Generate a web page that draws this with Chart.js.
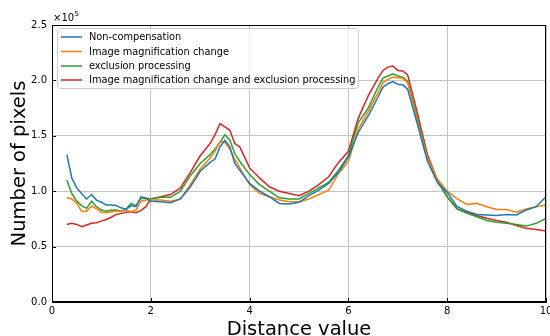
<!DOCTYPE html>
<html><head><meta charset="utf-8">
<script src="https://cdn.jsdelivr.net/npm/chart.js@4.4.1/dist/chart.umd.min.js"></script>
<style>html,body{margin:0;padding:0;background:#fff}canvas{display:block}</style>
</head><body>
<canvas id="c" width="550" height="336"></canvas>
<script>
// Distance values (x) and pixel counts in units of 1e5
const distance = [0.3,0.4,0.5,0.6,0.7,0.8,0.9,1.0,1.1,1.2,1.3,1.4,1.5,1.6,1.7,1.8,1.9,2.0,
  2.2,2.4,2.6,2.8,3.0,3.2,3.3,3.4,3.5,3.6,3.7,3.8,
  4.0,4.2,4.4,4.6,4.8,5.0,5.2,5.4,5.6,5.8,6.0,6.2,6.4,6.6,
  6.7,6.8,6.9,7.0,7.1,7.2,
  7.4,7.6,7.8,8.0,8.2,8.4,8.6,8.8,9.0,9.2,9.4,9.6,9.8,10.0];

const nonCompensation = [1.33,1.12,1.03,0.98,0.93,0.97,0.92,0.90,0.875,0.875,0.87,0.85,0.835,0.87,0.86,0.95,0.94,0.91,
  0.905,0.895,0.93,1.04,1.18,1.26,1.29,1.40,1.46,1.40,1.25,1.19,
  1.07,1.00,0.95,0.89,0.885,0.90,0.96,1.01,1.07,1.17,1.31,1.53,1.68,1.85,
  1.94,1.97,1.99,1.965,1.96,1.92,
  1.60,1.27,1.08,0.99,0.86,0.82,0.79,0.785,0.78,0.79,0.785,0.83,0.86,0.95];

const magnificationChange = [0.94,0.93,0.89,0.82,0.82,0.866,0.84,0.81,0.805,0.815,0.82,0.82,0.83,0.815,0.83,0.91,0.92,0.92,
  0.92,0.91,0.93,1.06,1.20,1.30,1.36,1.45,1.44,1.38,1.29,1.21,
  1.06,0.98,0.95,0.92,0.905,0.905,0.93,0.97,1.01,1.16,1.27,1.56,1.72,1.89,
  1.98,2.01,2.03,2.025,2.02,1.98,
  1.63,1.30,1.11,1.00,0.93,0.88,0.89,0.86,0.835,0.835,0.81,0.84,0.86,0.875];

const exclusionProcessing = [1.10,0.98,0.91,0.87,0.845,0.91,0.86,0.83,0.82,0.83,0.83,0.82,0.84,0.89,0.87,0.935,0.935,0.93,
  0.945,0.945,1.00,1.14,1.25,1.33,1.38,1.44,1.51,1.46,1.34,1.27,
  1.15,1.06,1.00,0.94,0.93,0.93,0.98,1.03,1.08,1.19,1.32,1.62,1.75,1.94,
  2.02,2.04,2.06,2.04,2.03,1.99,
  1.66,1.31,1.09,0.95,0.84,0.80,0.77,0.735,0.72,0.71,0.70,0.685,0.71,0.755];

const magnificationAndExclusion = [0.70,0.71,0.70,0.68,0.695,0.71,0.715,0.73,0.745,0.765,0.79,0.80,0.81,0.815,0.805,0.825,0.86,0.93,
  0.95,0.97,1.03,1.17,1.32,1.43,1.51,1.61,1.58,1.55,1.43,1.40,
  1.21,1.12,1.04,1.00,0.98,0.96,1.00,1.06,1.13,1.26,1.36,1.66,1.86,2.02,
  2.09,2.12,2.13,2.09,2.085,2.05,
  1.70,1.33,1.10,0.95,0.84,0.81,0.78,0.755,0.735,0.72,0.69,0.665,0.655,0.64];

const seriesLabels = ['Non-compensation','Image magnification change','exclusion processing','Image magnification change and exclusion processing'];
const seriesColors = ['#1f77b4','#ff7f0e','#2ca02c','#d62728'];
const seriesValues = [nonCompensation, magnificationChange, exclusionProcessing, magnificationAndExclusion];

const FONT = "'DejaVu Sans', sans-serif";

const decor = {
  id: 'decor',
  afterDatasetsDraw(chart) {
    const ctx = chart.ctx, a = chart.chartArea;
    const xs = chart.scales.x, ys = chart.scales.y;
    ctx.save();
    ctx.strokeStyle = '#000'; ctx.lineWidth = 1;
    ctx.strokeRect(Math.round(a.left)+0.5, Math.round(a.top)+0.5, Math.round(a.right-a.left)-1, Math.round(a.bottom-a.top)-1);
    ctx.beginPath();
    ys.ticks.forEach(t => { const y = Math.round(ys.getPixelForValue(t.value))+0.5; ctx.moveTo(a.left, y); ctx.lineTo(a.left+4, y); });
    xs.ticks.forEach(t => { const x = Math.round(xs.getPixelForValue(t.value))+0.5; ctx.moveTo(x, a.bottom); ctx.lineTo(x, a.bottom-4); });
    ctx.stroke();
    ctx.restore();
  },
  afterDraw(chart) {
    const ctx = chart.ctx, a = chart.chartArea;
    ctx.save();
    ctx.fillStyle = '#000';
    ctx.font = '19.5px ' + FONT;
    ctx.textAlign = 'center'; ctx.textBaseline = 'alphabetic';
    ctx.fillText('Distance value', (a.left + a.right) / 2, 335);
    ctx.save();
    ctx.translate(25, (a.top + a.bottom) / 2);
    ctx.rotate(-Math.PI / 2);
    ctx.fillText('Number of pixels', 0, 0);
    ctx.restore();
    ctx.textAlign = 'left';
    ctx.font = '10px ' + FONT;
    ctx.fillText('\u00d710', 53, 21);
    const w = ctx.measureText('\u00d710').width;
    ctx.font = '7px ' + FONT;
    ctx.fillText('5', 53 + w + 0.5, 16);
    const lx = 57, ly = 28, lw = 301, lh = 60;
    ctx.fillStyle = 'rgba(255,255,255,0.8)';
    ctx.strokeStyle = '#cccccc'; ctx.lineWidth = 1;
    ctx.beginPath();
    ctx.roundRect(lx + 0.5, ly + 0.5, lw, lh, 3);
    ctx.fill(); ctx.stroke();
    ctx.font = '9.8px ' + FONT;
    ctx.textBaseline = 'middle';
    const rows = [37, 51.5, 66, 80];
    chart.data.datasets.forEach((ds, i) => {
      ctx.strokeStyle = ds.borderColor; ctx.lineWidth = 1.5;
      ctx.beginPath(); ctx.moveTo(61, rows[i]); ctx.lineTo(82, rows[i]); ctx.stroke();
      ctx.fillStyle = '#000';
      ctx.fillText(ds.label, 89, rows[i] + 0.5);
    });
    ctx.restore();
  }
};

new Chart(document.getElementById('c'), {
  type: 'scatter',
  data: {
    datasets: seriesValues.map((vals, i) => ({
      label: seriesLabels[i],
      data: distance.map((x, j) => ({ x: x, y: vals[j] })),
      showLine: true,
      borderColor: seriesColors[i],
      backgroundColor: seriesColors[i],
      borderWidth: 1.5,
      pointRadius: 0,
      tension: 0
    }))
  },
  options: {
    responsive: false,
    animation: false,
    devicePixelRatio: 1,
    layout: { padding: { top: 25, right: 4, left: 0, bottom: 0 } },
    plugins: { legend: { display: false }, tooltip: { enabled: false } },
    scales: {
      x: {
        type: 'linear', min: 0, max: 10,
        afterFit: s => { s.height = 34; s.paddingRight = 0; s.paddingLeft = 0; },
        ticks: { stepSize: 2, color: '#000', font: { family: FONT, size: 10 }, padding: 3, maxRotation: 0 },
        grid: { color: '#c4c4c4', lineWidth: 1, drawTicks: false },
        border: { display: true, color: '#000', width: 1 }
      },
      y: {
        type: 'linear', min: 0, max: 2.5,
        afterFit: s => { s.width = 52; s.paddingTop = 0; s.paddingBottom = 0; },
        ticks: { stepSize: 0.5, color: '#000', font: { family: FONT, size: 10 }, padding: 5, callback: v => v.toFixed(1) },
        grid: { color: '#c4c4c4', lineWidth: 1, drawTicks: false },
        border: { display: true, color: '#000', width: 1 }
      }
    }
  },
  plugins: [decor]
});
</script>
</body></html>
